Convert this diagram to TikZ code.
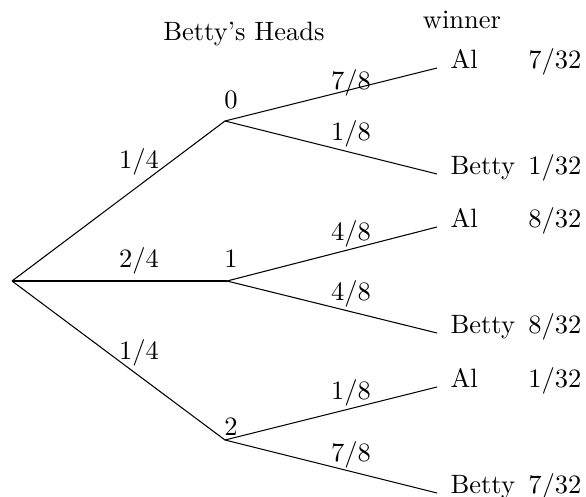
\documentclass[tikz,border=0pt]{standalone}
\usepackage{amsmath}
\usepackage{tikz}

\begin{document}
\begin{tikzpicture}[x=0.377pt, y=-0.377pt,
    lbl/.style={anchor=base, inner sep=0pt},
    leaf/.style={anchor=base west, inner sep=0pt},
    prob/.style={anchor=base east, inner sep=0pt}]
    % 画布大小
    \useasboundingbox (0,0) rectangle (586,497);

    % 根与第一层分叉点
    \coordinate (r) at (12,281);
    \coordinate (h0) at (225,121);
    \coordinate (h1) at (227,281);
    \coordinate (h2) at (225,440);

    % 叶端点
    \coordinate (e1) at (437,68);
    \coordinate (e2) at (437,174);
    \coordinate (e3) at (437,227);
    \coordinate (e4) at (437,333);
    \coordinate (e5) at (437,387);
    \coordinate (e6) at (437,493);

    % 第一层分支
    \draw (r) -- (h0);
    \draw (r) -- (h1);
    \draw (r) -- (h2);

    % 第二层分支
    \draw (h0) -- (e1);
    \draw (h0) -- (e2);
    \draw (h1) -- (e3);
    \draw (h1) -- (e4);
    \draw (h2) -- (e5);
    \draw (h2) -- (e6);

    % 标题
    \node[lbl] (title) at (244,40) {Betty's Heads};
    \node[lbl] (win) at (462,28) {winner};

    % 第一层标注
    \node[lbl] (k0) at (231,108) {$0$};
    \node[lbl] (k1) at (231,267) {$1$};
    \node[lbl] (k2) at (231,435) {$2$};
    \node[lbl] (p0) at (139,168) {$1/4$};
    \node[lbl] (p1) at (139,267) {$2/4$};
    \node[lbl] (p2) at (139,359) {$1/4$};

    % 第二层标注
    \node[lbl] (q1) at (351,89) {$7/8$};
    \node[lbl] (q2) at (351,140) {$1/8$};
    \node[lbl] (q3) at (351,240) {$4/8$};
    \node[lbl] (q4) at (351,300) {$4/8$};
    \node[lbl] (q5) at (351,399) {$1/8$};
    \node[lbl] (q6) at (351,461) {$7/8$};

    % 胜者与概率
    \node[leaf] (w1) at (450,68) {Al};
    \node[leaf] (w2) at (450,174) {Betty};
    \node[leaf] (w3) at (450,227) {Al};
    \node[leaf] (w4) at (450,333) {Betty};
    \node[leaf] (w5) at (450,387) {Al};
    \node[leaf] (w6) at (450,493) {Betty};
    \node[prob] (f1) at (582,68) {$7/32$};
    \node[prob] (f2) at (582,174) {$1/32$};
    \node[prob] (f3) at (582,227) {$8/32$};
    \node[prob] (f4) at (582,333) {$8/32$};
    \node[prob] (f5) at (582,387) {$1/32$};
    \node[prob] (f6) at (582,493) {$7/32$};
\end{tikzpicture}
\end{document}
